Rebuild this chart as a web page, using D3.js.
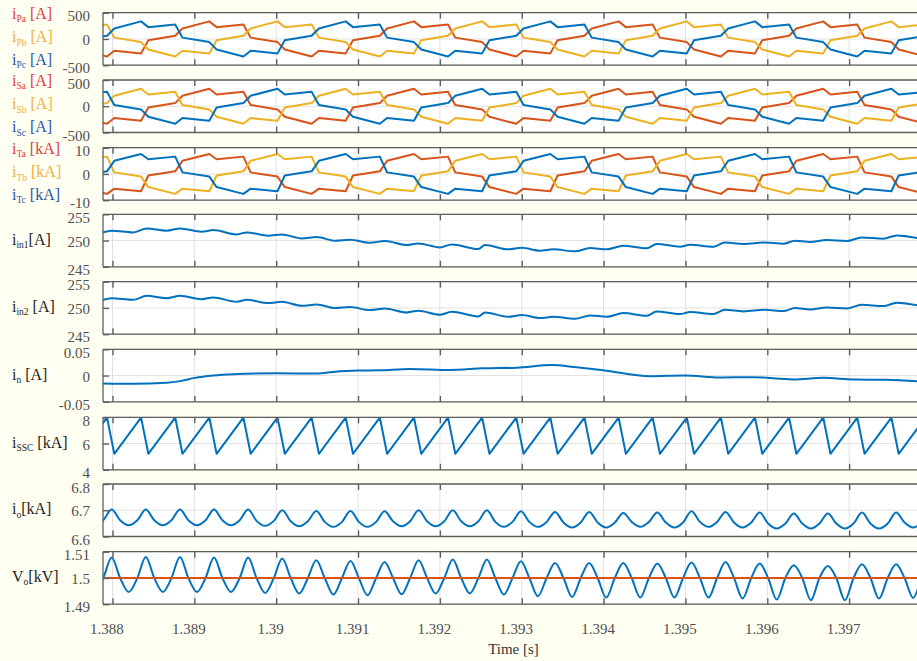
<!DOCTYPE html>
<html><head><meta charset="utf-8">
<script src="https://cdn.jsdelivr.net/npm/d3@7"></script>
<style>
html,body{margin:0;padding:0;background:#fffff2;}
svg{display:block;}
text{font-family:"Liberation Serif","Times New Roman",serif;}
</style></head><body>
<svg id="chart" width="917" height="661"></svg>
<script>
// ---------------- DATA ----------------
const xDomain = [1.387884, 1.398];
const xTicks = [1.388,1.389,1.390,1.391,1.392,1.393,1.394,1.395,1.396,1.397];
const xTickLabels = ["1.388","1.389","1.39","1.391","1.392","1.393","1.394","1.395","1.396","1.397"];

// y ticks per panel
const yTicksA = [-500,0,500],  yTextA = ["-500","0","500"];
const yTicksT = [-10,0,10],    yTextT = ["-10","0","10"];
const yTicksIn = [245,250,255], yTextIn = ["245","250","255"];
const yTicksN = [-0.05,0,0.05], yTextN = ["-0.05","0","0.05"];
const yTicksSsc = [4,6,8],     yTextSsc = ["4","6","8"];
const yTicksIo = [6.6,6.7,6.8], yTextIo = ["6.6","6.7","6.8"];
const yTicksVo = [1.49,1.5,1.51], yTextVo = ["1.49","1.5","1.51"];

// commutation instants (end of each 60-degree interval): i_ssc minimum / peak times
const segMinT = [1.387605,1.388022,1.388438,1.388855,1.389272,1.389688,1.390105,1.390522,1.390938,1.391355,1.391772,1.392188,1.392605,1.393022,1.393438,1.393855,1.394272,1.394688,1.395105,1.395522,1.395938,1.396355,1.396772,1.397188,1.397605,1.398022];
const segPeakT = [1.387933,1.388349,1.388766,1.389183,1.389599,1.390016,1.390433,1.390849,1.391266,1.391683,1.392099,1.392516,1.392933,1.393349,1.393766,1.394183,1.394599,1.395016,1.395433,1.395849,1.396266,1.396683,1.397099,1.397516,1.397933,1.398349];
const sscMin  = [5.22,5.22,5.22,5.22,5.22,5.22,5.22,5.22,5.22,5.22,5.22,5.22,5.22,5.22,5.22,5.22,5.22,5.22,5.22,5.22,5.22,5.22,5.22,5.22,5.22,5.22];
const sscPeak = [7.98,7.98,7.98,7.98,7.98,7.98,7.98,7.98,7.98,7.98,7.98,7.98,7.98,7.98,7.98,7.98,7.98,7.98,7.98,7.98,7.98,7.98,7.98,7.98,7.98,7.98];

// phase current interval levels [start,end] for interval types A..F
const levelsP = [[200,335],[225,275],[25,-60],[-200,-335],[-225,-275],[-25,60]];
const levelsS = [[200,335],[225,275],[25,-60],[-200,-335],[-225,-275],[-25,60]];
const levelsT = [[5.0,7.6],[5.6,6.6],[0.6,-1.0],[-5.0,-7.6],[-5.6,-6.6],[-0.6,1.0]];
// interval-type offsets of phases a (red), b (yellow), c (blue)
const offsetsP = [4,2,0];
const offsetsS = [4,0,2];
const offsetsT = [4,2,0];

// input currents
const inT = [1.387880,1.387990,1.388254,1.388418,1.388662,1.388825,1.389090,1.389232,1.389517,1.389640,1.389904,1.390067,1.390312,1.390495,1.390718,1.390902,1.391146,1.391329,1.391594,1.391736,1.392001,1.392144,1.392469,1.392551,1.392836,1.392999,1.393223,1.393386,1.393651,1.393834,1.394038,1.394241,1.394527,1.394649,1.394933,1.395056,1.395340,1.395483,1.395707,1.395972,1.396196,1.396338,1.396522,1.396726,1.396970,1.397153,1.397417,1.397581,1.397840];
const in1V = [251.55,251.87,251.55,252.31,251.87,252.31,251.68,251.99,251.17,251.55,250.92,251.17,250.41,250.66,249.97,250.16,249.59,249.91,249.15,249.46,248.70,249.27,248.39,249.15,248.32,248.64,248.07,248.32,247.94,248.58,248.32,249.02,248.51,249.34,248.83,249.21,248.83,249.65,249.34,249.65,249.40,249.97,249.72,250.09,249.91,250.60,250.35,250.98,250.47];
const in2V = [251.55,251.87,251.55,252.31,251.87,252.31,251.68,251.99,251.17,251.55,250.92,251.17,250.41,250.66,249.97,250.16,249.59,249.91,249.15,249.46,248.70,249.27,248.39,249.15,248.32,248.64,248.07,248.32,247.94,248.58,248.32,249.02,248.51,249.34,248.83,249.21,248.83,249.65,249.34,249.65,249.40,249.97,249.72,250.09,249.91,250.60,250.35,250.98,250.47];

// neutral current
const nT = [1.387880,1.388254,1.388662,1.388825,1.389008,1.389232,1.389476,1.390006,1.390453,1.390698,1.391003,1.391268,1.391635,1.392123,1.392530,1.392938,1.393366,1.393671,1.393996,1.394567,1.394994,1.395422,1.395829,1.396318,1.396684,1.397051,1.397459,1.397840];
const nV = [-0.0150,-0.0156,-0.0137,-0.0106,-0.0044,0.0000,0.0025,0.0044,0.0037,0.0069,0.0094,0.0100,0.0125,0.0106,0.0137,0.0150,0.0200,0.0156,0.0100,-0.0012,0.0000,-0.0037,-0.0031,-0.0075,-0.0044,-0.0075,-0.0081,-0.0112];

// output ripple: peak and valley instants
const oscPeakT = [1.387990,1.388407,1.388824,1.389240,1.389657,1.390074,1.390490,1.390907,1.391324,1.391740,1.392157,1.392574,1.392990,1.393407,1.393824,1.394240,1.394657,1.395074,1.395490,1.395907,1.396324,1.396740,1.397157,1.397574,1.397990];
const oscValleyT = [1.387782,1.388198,1.388615,1.389032,1.389448,1.389865,1.390282,1.390698,1.391115,1.391532,1.391948,1.392365,1.392782,1.393198,1.393615,1.394032,1.394448,1.394865,1.395282,1.395698,1.396115,1.396532,1.396948,1.397365,1.397782];
const crossDt = 0.000103;
const ioPeak = [6.7025,6.7025,6.7025,6.7025,6.7025,6.7000,6.6975,6.6975,6.6962,6.7000,6.7000,6.7000,6.6962,6.6937,6.6937,6.6899,6.6911,6.6962,6.6937,6.6911,6.6873,6.6873,6.6911,6.6911,6.6911];
const ioValley = [6.6431,6.6431,6.6431,6.6431,6.6431,6.6405,6.6393,6.6367,6.6367,6.6393,6.6393,6.6393,6.6367,6.6367,6.6342,6.6342,6.6367,6.6342,6.6367,6.6342,6.6304,6.6304,6.6304,6.6304,6.6342];
const ioMid = [6.6621,6.6621,6.6621,6.6621,6.6621,6.6595,6.6583,6.6557,6.6557,6.6583,6.6583,6.6583,6.6557,6.6557,6.6532,6.6532,6.6557,6.6532,6.6557,6.6532,6.6494,6.6494,6.6494,6.6494,6.6532];
const voPeak = [1.50776,1.50799,1.50799,1.50776,1.50776,1.50738,1.50673,1.50646,1.50608,1.50673,1.50700,1.50700,1.50635,1.50570,1.50570,1.50570,1.50548,1.50585,1.50608,1.50548,1.50483,1.50456,1.50521,1.50521,1.50521];
const voValley = [1.49468,1.49468,1.49468,1.49468,1.49468,1.49430,1.49407,1.49369,1.49342,1.49380,1.49407,1.49407,1.49369,1.49304,1.49278,1.49253,1.49253,1.49253,1.49253,1.49217,1.49179,1.49152,1.49152,1.49217,1.49240];
const voMid = [1.5,1.5,1.5,1.5,1.5,1.5,1.5,1.5,1.5,1.5,1.5,1.5,1.5,1.5,1.5,1.5,1.5,1.5,1.5,1.5,1.5,1.5,1.5,1.5,1.5];
const voRefT = [1.387884, 1.398];
const voRefV = [1.5, 1.5];

// labels
const labelsP = [["i","Pa"," [A]"],["i","Pb"," [A]"],["i","Pc"," [A]"]];
const labelsS = [["i","Sa"," [A]"],["i","Sb"," [A]"],["i","Sc"," [A]"]];
const labelsT = [["i","Ta"," [kA]"],["i","Tb"," [kA]"],["i","Tc"," [kA]"]];
const labelsSingle = [["i","in1","[A]"],["i","in2"," [A]"],["i","n"," [A]"],["i","SSC"," [kA]"],["i","o","[kA]"],["V","o","[kV]"]];
const xTitle = "Time [s]";

// ---------------- STYLE / LAYOUT ----------------
const C_RED = "#d95319", C_YEL = "#edb120", C_BLUE = "#0072bd";
const L_RED = "#e23b3b", L_YEL = "#f2ae40", L_BLUE = "#2c54a6";
const X0 = 103, X1 = 931, PH = 52.5;
const tops = [12.7, 80, 147.7, 214.3, 281.7, 349.3, 417.3, 484, 551.7];
const AX = "#5e5e5e", TXT = "#505050";

const svg = d3.select('#chart');
svg.append('rect').attr('width',917).attr('height',661).attr('fill','#fffff2');
const x = d3.scaleLinear().domain(xDomain).range([X0, X1]);

function makePanel(i, dom){
  const top = tops[i], bot = top + PH;
  const y = d3.scaleLinear().domain(dom).range([bot, top]);
  const g = svg.append('g');
  g.append('rect').attr('x',X0).attr('y',top).attr('width',X1-X0).attr('height',PH).attr('fill','#ffffff');
  g.selectAll('line.vg').data(xTicks).join('line').attr('class','vg')
    .attr('x1',d=>x(d)).attr('x2',d=>x(d)).attr('y1',top).attr('y2',bot)
    .attr('stroke','#e2e2e2').attr('stroke-width',1);
  const cid = 'clip'+i;
  svg.append('clipPath').attr('id',cid).append('rect')
    .attr('x',X0).attr('y',top).attr('width',X1-X0).attr('height',PH);
  const dg = g.append('g').attr('clip-path',`url(#${cid})`);
  return {g, dg, y, top, bot};
}

function gridY(p, ticks){
  p.g.insert('g', 'g').selectAll('line').data(ticks).join('line')
    .attr('x1',X0).attr('x2',X1).attr('y1',d=>p.y(d)).attr('y2',d=>p.y(d))
    .attr('stroke','#e2e2e2').attr('stroke-width',1);
}

function frame(p, ticks, texts, withX){
  const {g, y, top, bot} = p;
  [[X0,top,X1,top],[X0,bot,X1,bot],[X0,top,X0,bot]].forEach(s=>{
    g.append('line').attr('x1',s[0]).attr('y1',s[1]).attr('x2',s[2]).attr('y2',s[3])
      .attr('stroke',AX).attr('stroke-width',1.3);
  });
  const at = g.append('g').attr('transform',`translate(0,${top})`)
    .call(d3.axisTop(x).tickValues(xTicks).tickSize(-6).tickFormat(''));
  at.select('.domain').remove();
  at.selectAll('line').attr('stroke',AX).attr('stroke-width',1.4);
  const ab = g.append('g').attr('transform',`translate(0,${bot})`)
    .call(d3.axisBottom(x).tickValues(xTicks).tickSize(-6).tickPadding(19.6)
      .tickFormat(withX ? ((d,i)=>xTickLabels[i]) : ''));
  ab.select('.domain').remove();
  ab.selectAll('line').attr('stroke',AX).attr('stroke-width',1.4);
  ab.attr('font-family','"Liberation Serif","Times New Roman",serif').attr('font-size',15);
  ab.selectAll('text').attr('fill',TXT).attr('dx',-6);
  const al = g.append('g').attr('transform',`translate(${X0},0)`)
    .call(d3.axisLeft(y).tickValues(ticks).tickSize(-6).tickPadding(13).tickFormat((d,i)=>texts[i]));
  al.select('.domain').remove();
  al.selectAll('line').attr('stroke',AX).attr('stroke-width',1.4);
  al.attr('font-family','"Liberation Serif","Times New Roman",serif').attr('font-size',15);
  al.selectAll('text').attr('fill',TXT).attr('dy',(d,i)=> i===0 ? '7.5px' : (i===1 ? '5.5px' : '8px'));
}

function drawLine(p, pts, color, curve){
  const ln = d3.line().x(d=>x(d[0])).y(d=>p.y(d[1])).curve(curve || d3.curveLinear);
  p.dg.append('path').attr('d', ln(pts)).attr('fill','none').attr('stroke',color)
    .attr('stroke-width',2).attr('stroke-linejoin','round').attr('stroke-linecap','round');
}

function phasePts(lev, off){
  const pts = [];
  segMinT.forEach((t0,j)=>{
    const k = ((j - 1 + off) % 6 + 6) % 6;
    pts.push([t0, lev[k][0]], [segPeakT[j], lev[k][1]]);
  });
  return pts;
}
function oscPts(peakV, valleyV, midV){
  const pts = [];
  for (let i = 0; i < oscPeakT.length; i++){
    pts.push([oscValleyT[i], valleyV[i]]);
    pts.push([oscPeakT[i] - crossDt, midV[i]]);
    pts.push([oscPeakT[i], peakV[i]]);
    if (i + 1 < oscValleyT.length) pts.push([oscPeakT[i] + crossDt, midV[i+1]]);
  }
  return pts;
}

function label(txt, y, color){
  const t = svg.append('text').attr('x',12).attr('y',y).attr('fill',color).attr('font-size',16);
  t.append('tspan').text(txt[0]);
  t.append('tspan').attr('font-size',9.5).attr('dy',3.5).text(txt[1]);
  t.append('tspan').attr('font-size',16).attr('dy',-3.5).text(txt[2]);
}

// ---- panels 1-3 (three-phase currents)
const threePhase = [
  {lev:levelsP, off:offsetsP, ticks:yTicksA, texts:yTextA, dom:[-500,500], labels:labelsP},
  {lev:levelsS, off:offsetsS, ticks:yTicksA, texts:yTextA, dom:[-500,500], labels:labelsS},
  {lev:levelsT, off:offsetsT, ticks:yTicksT, texts:yTextT, dom:[-10,10], labels:labelsT}
];
const lineCols = [C_RED, C_YEL, C_BLUE];
const labCols = [L_RED, L_YEL, L_BLUE];
const rowOff = [5.8, 29.3, 52.2];
threePhase.forEach((cfg, i)=>{
  const p = makePanel(i, cfg.dom);
  gridY(p, cfg.ticks);
  cfg.off.forEach((o, ph)=> drawLine(p, phasePts(cfg.lev, o), lineCols[ph]));
  frame(p, cfg.ticks, cfg.texts, false);
  cfg.labels.forEach((lb, r)=> label(lb, tops[i] + rowOff[r], labCols[r]));
});

// ---- panel 4, 5: input currents
const p4 = makePanel(3, [245,255]); gridY(p4, yTicksIn);
drawLine(p4, inT.map((t,i)=>[t, in1V[i]]), C_BLUE, d3.curveMonotoneX);
frame(p4, yTicksIn, yTextIn, false);
const p5 = makePanel(4, [245,255]); gridY(p5, yTicksIn);
drawLine(p5, inT.map((t,i)=>[t, in2V[i]]), C_BLUE, d3.curveMonotoneX);
frame(p5, yTicksIn, yTextIn, false);
// ---- panel 6: neutral
const p6 = makePanel(5, [-0.05,0.05]); gridY(p6, yTicksN);
drawLine(p6, nT.map((t,i)=>[t, nV[i]]), C_BLUE, d3.curveMonotoneX);
frame(p6, yTicksN, yTextN, false);
// ---- panel 7: i_ssc
const p7 = makePanel(6, [4,8]); gridY(p7, yTicksSsc);
const sscPts = [];
segMinT.forEach((t,j)=> sscPts.push([t, sscMin[j]], [segPeakT[j], sscPeak[j]]));
drawLine(p7, sscPts, C_BLUE);
frame(p7, yTicksSsc, yTextSsc, false);
// ---- panel 8: i_o
const p8 = makePanel(7, [6.6,6.8]); gridY(p8, yTicksIo);
drawLine(p8, oscPts(ioPeak, ioValley, ioMid), C_BLUE, d3.curveMonotoneX);
frame(p8, yTicksIo, yTextIo, false);
// ---- panel 9: V_o
const p9 = makePanel(8, [1.49,1.51]); gridY(p9, yTicksVo);
drawLine(p9, oscPts(voPeak, voValley, voMid), C_BLUE, d3.curveMonotoneX);
drawLine(p9, voRefT.map((t,i)=>[t, voRefV[i]]), C_RED);
frame(p9, yTicksVo, yTextVo, true);

labelsSingle.forEach((lb, k)=> label(lb, tops[3+k] + PH/2 + 4, "#1e1e1e"));

svg.append('text').attr('x',513.5).attr('y',654).attr('text-anchor','middle')
  .attr('font-size',15).attr('fill','#333').text(xTitle);
</script></body></html>
